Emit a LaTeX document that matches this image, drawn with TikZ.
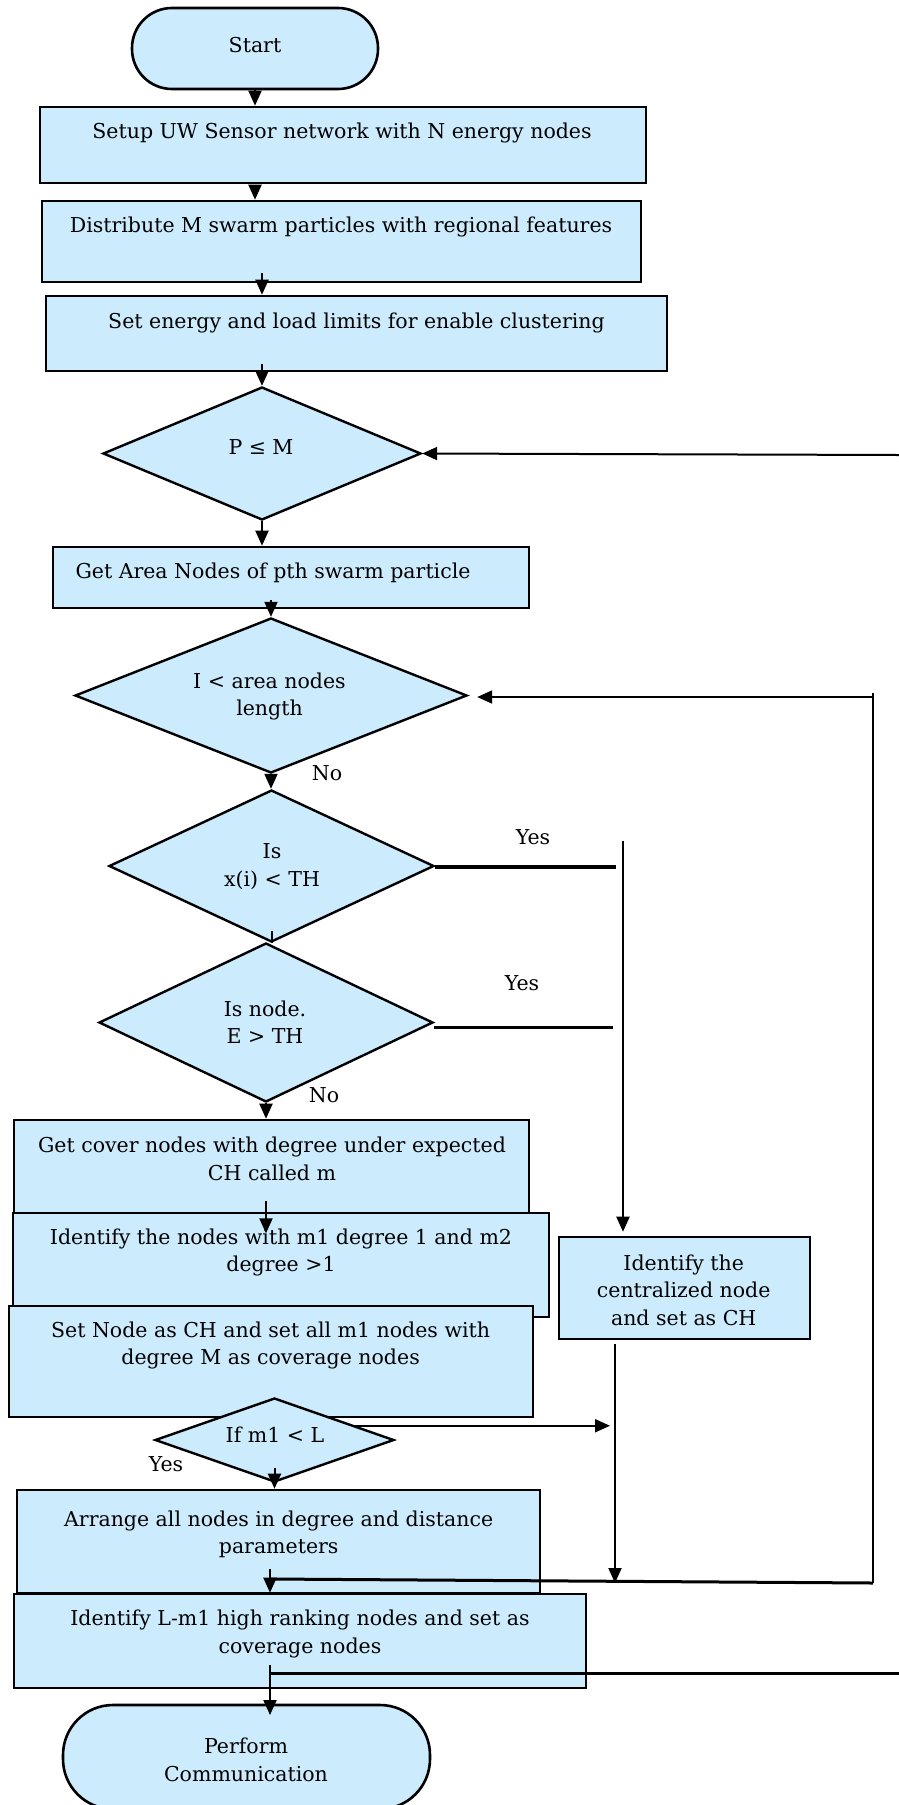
\documentclass[tikz,border=0pt]{standalone}
\usepackage{fontspec}
\setmainfont{DejaVu Serif}
\usetikzlibrary{shapes.geometric,arrows.meta,calc}
\definecolor{boxblue}{RGB}{204,235,253}
\newcommand\myfs{\fontsize{20.5pt}{27.5pt}\selectfont}
\begin{document}
\begin{tikzpicture}[x=1pt,y=-1pt,
  box/.style={draw=black, fill=boxblue, line width=2.6pt, inner sep=0pt, rectangle},
  term/.style={box, rounded corners=40pt},
  dia/.style={draw=black, fill=boxblue, line width=2.4pt, shape=diamond, inner sep=0pt},
  txt/.style={align=center, inner sep=0pt, font=\myfs, text=black},
  arr/.style={line width=2pt, -{Triangle[length=15pt,width=13pt]}},
  ln/.style={line width=2pt},
  thk/.style={line width=3pt},
  thkk/.style={line width=4.8pt}]
\useasboundingbox (0,0) rectangle (899,1805);

% shapes
\node[term, minimum width=246pt, minimum height=81pt] (start) at (255,48.5) {};
\node[box, minimum width=606pt, minimum height=76pt] (setup) at (343,145) {};
\node[box, minimum width=599pt, minimum height=81pt] (distr) at (341.5,241.5) {};
\node[box, minimum width=621pt, minimum height=75pt] (energy) at (356.5,333.5) {};
\node[dia, minimum width=318pt, minimum height=133pt] (pm) at (262,453.5) {};
\node[box, minimum width=476pt, minimum height=61pt] (area) at (291,577.5) {};
\node[dia, minimum width=392pt, minimum height=155pt] (iless) at (271,695.5) {};
\node[dia, minimum width=325pt, minimum height=152pt] (isx) at (271.5,866) {};
\node[dia, minimum width=334pt, minimum height=159pt] (isnode) at (266,1022.5) {};
\node[box, minimum width=515pt, minimum height=93pt] (cover) at (271.5,1166.5) {};
\node[box, minimum width=536pt, minimum height=104pt] (idn) at (281,1265) {};
\node[box, minimum width=524pt, minimum height=111pt] (setn) at (271,1361.5) {};
\node[dia, minimum width=239pt, minimum height=84pt] (ifm) at (274.5,1440) {};
\node[box, minimum width=523pt, minimum height=103pt] (arrange) at (278.5,1541.5) {};
\node[box, minimum width=572pt, minimum height=94pt] (idl) at (300,1641) {};
\node[term, rounded corners=50pt, minimum width=367pt, minimum height=104pt] (perf) at (246.5,1757) {};
\node[box, minimum width=251pt, minimum height=102pt] (cent) at (684.5,1288) {};

% texts
\node[txt] (tstart) at (255,45) {Start};
\node[txt] (tsetup) at (342,133) {Setup UW Sensor network with N energy nodes};
\node[txt] (tdistr) at (341,227) {Distribute M swarm particles with regional features};
\node[txt] (tenergy) at (356.5,323) {Set energy and load limits for enable clustering};
\node[txt] (tpm) at (261,447) {P ≤ M};
\node[txt] (tarea) at (273,573) {Get Area Nodes of pth swarm particle};
\node[txt] (tiless) at (269.5,696.5) {I < area nodes\\length};
\node[txt] (tisx) at (272,866.5) {Is\\x(i) < TH};
\node[txt] (tisnode) at (265,1022) {Is node.\\E > TH};
\node[txt] (tcover) at (272,1159) {Get cover nodes with degree under expected\\CH called m};
\node[txt] (tidn) at (281,1252.5) {Identify the nodes with m1 degree 1 and m2\\degree >1};
\node[txt] (tsetn) at (270.6,1345.5) {Set Node as CH and set all m1 nodes with\\degree M as coverage nodes};
\node[txt] (tifm) at (275,1435) {If m1 < L};
\node[txt] (tarrange) at (278.7,1534.5) {Arrange all nodes in degree and distance\\parameters};
\node[txt] (tidl) at (300,1634) {Identify L-m1 high ranking nodes and set as\\coverage nodes};
\node[txt] (tperf) at (246,1760) {Perform\\Communication};
\node[txt] (tcent) at (683.7,1290) {Identify the\\centralized node\\and set as CH};
\node[txt] (no1) at (327,773) {No};
\node[txt] (no2) at (324,1095) {No};
\node[txt] (yes1) at (533,837) {Yes};
\node[txt] (yes2) at (522,983) {Yes};
\node[txt] (yes3) at (166,1464) {Yes};

% helper coordinates
\coordinate (edgeR) at (899,455);
\coordinate (loopT) at (873,693);
\coordinate (loopB) at (873,1583);
\coordinate (j1) at (270,1579);
\coordinate (j2) at (615,1583);
\coordinate (j3) at (610,1430);
\coordinate (j4) at (623,841);
\coordinate (j5) at (616,867);
\coordinate (j5b) at (613,1027);
\coordinate (j6) at (270,1673);

% main column arrows
\draw[arr] (start.south) -- (start.south |- setup.north);
\draw[arr] ([yshift=-2pt]setup.south -| start.south) -- (start.south |- distr.north);
\draw[arr] ([yshift=10pt]distr.south -| pm.north) -- (pm.north |- energy.north);
\draw[arr] ([yshift=8pt]energy.south -| pm.north) -- (pm.north);
\draw[arr] (pm.south) -- (pm.south |- area.north);
\draw[arr] ([yshift=9pt]area.south -| iless.north) -- (iless.north);
\draw[arr] (iless.south) -- (iless.south |- isx.north);
\draw[ln] ([yshift=12pt]isx.south) -- (isx.south);
\draw[arr] (isnode.south) -- (isnode.south |- cover.north);
\draw[arr] ([yshift=13pt]cover.south -| isnode.south) -- ([yshift=-19pt]cover.south -| isnode.south);
\draw[arr] ([yshift=15pt]ifm.south) -- (ifm.south |- arrange.north);
\draw[arr] ([yshift=10pt]j1) -- (j1 |- idl.north);
\draw[arr] ([yshift=8pt]j6) -- ([yshift=-42pt]j6);

% loops and branches
\draw[arr] (edgeR) -- (pm.east);
\draw[ln] (loopB) -- (loopT);
\draw[arr, shorten >=9pt] ([yshift=-4pt]loopT) -- ([yshift=-4pt]loopT -| iless.east);
\draw[thk] (loopB) -- (j1);
\draw[thkk] (isx.east |- j5) -- (j5);
\draw[arr, shorten >=4pt] (j4) -- (j4 |- cent.north);
\draw[thk] (isnode.east |- j5b) -- (j5b);
\draw[arr] (ifm.10) -- (ifm.10 -| j3);
\draw[arr] ([yshift=-4pt]cent.south -| j2) -- (j2);
\draw[thk] (j6) -- (j6 -| edgeR);
\end{tikzpicture}
\end{document}
